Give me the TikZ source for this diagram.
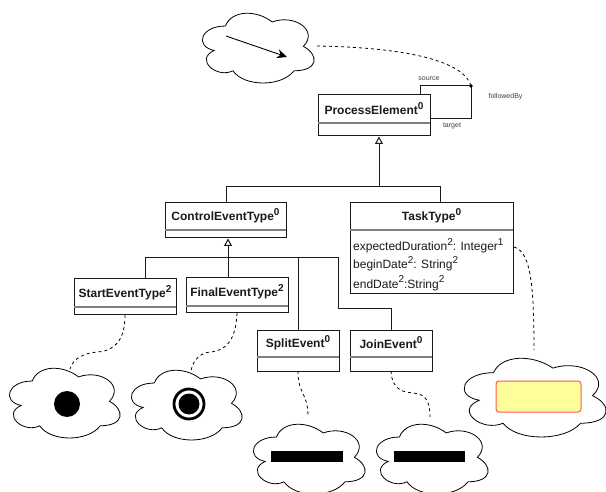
\documentclass[tikz,border=0pt]{standalone}
\usepackage{fontspec}
\setmainfont{Liberation Sans}
\usetikzlibrary{arrows.meta}
\definecolor{divgray}{HTML}{808080}
\definecolor{lineblk}{HTML}{1A1A1A}
\definecolor{noteyellow}{HTML}{FFFF99}
\definecolor{notered}{HTML}{FF5555}
\newcommand{\sups}[1]{\raisebox{0.42em}{\fontsize{10}{10}\selectfont #1}}
\newcommand{\cloudshape}[5][]{% opts, x, y, w, h (visible bbox)
  \pgfmathsetmacro{\cw}{#4/0.89}\pgfmathsetmacro{\ch}{#5/0.86}
  \pgfmathsetmacro{\cx}{#2-0.07*\cw}\pgfmathsetmacro{\cy}{#3-0.09*\ch}
  \begin{scope}[shift={(\cx,\cy)},x=\cw pt,y=-\ch pt]
  \draw[cloudline,#1] (0.25,0.25) .. controls (0.05,0.25) and (0,0.5) .. (0.16,0.55)
   .. controls (0,0.66) and (0.18,0.9) .. (0.31,0.8)
   .. controls (0.4,1) and (0.7,1) .. (0.8,0.8)
   .. controls (1,0.8) and (1,0.6) .. (0.875,0.5)
   .. controls (1,0.3) and (0.8,0.1) .. (0.625,0.2)
   .. controls (0.5,0.05) and (0.3,0.05) .. cycle;
  \end{scope}}
\tikzset{
  x=1pt,y=-1pt,
  umlbox/.style={draw=lineblk,line width=1pt,fill=white,inner sep=0pt,outer sep=0pt,anchor=north west},
  divider/.style={draw=divgray,line width=1.4pt},
  titletext/.style={font=\fontsize{12}{13}\selectfont\bfseries,inner sep=0pt,text=lineblk},
  attrtext/.style={font=\fontsize{12}{14}\selectfont,inner sep=0pt,text=lineblk,anchor=base west},
  smalltext/.style={font=\fontsize{7}{8}\selectfont,inner sep=0pt,text=black!75},
  conn/.style={draw=lineblk,line width=1pt},
  dashconn/.style={draw=black,line width=0.8pt,dash pattern=on 3pt off 3pt},
  genarrow/.style={conn,-{Triangle[open,length=7.5pt,width=8pt,line width=1pt]}},
  cloudline/.style={draw=black,line width=0.8pt,fill=white},
}
\newcommand{\umlclass}[7]{% name,x1,y1,x2,y2,divy,title
  \node[umlbox,minimum width=#4-#2,minimum height=#5-#3] (#1) at (#2,#3) {};
  \draw[divider] (#2,#6) -- (#4,#6);
  \node[titletext] (#1title) at ({(#2+#4)/2},{(#3+#6)/2-0.5}) {#7};
}
\begin{document}
\begin{tikzpicture}
\path[use as bounding box,fill=white] (0,0) rectangle (606,492);
\clip (0,0) rectangle (606,492);
% clouds
\cloudshape{203}{13}{111}{70}
\cloudshape{10}{368}{110}{70}
\cloudshape{132}{370}{110}{70}
\cloudshape{254}{424}{111}{70}
\cloudshape{377}{424}{111}{70}
\cloudshape{465}{358}{141}{79}
% cloud contents
\coordinate (arrowA) at (226,36);
\coordinate (arrowB) at (287,57);
\draw[draw=black,line width=0.9pt,-{Stealth[length=10pt,width=9pt]}] (arrowA) -- (arrowB);
\node[circle,fill=black,minimum size=26pt,inner sep=0pt] (startdot) at (67,404) {};
\node[circle,draw=black,line width=2.8pt,minimum size=30pt,inner sep=0pt] (finalring) at (189,404) {};
\node[circle,fill=black,minimum size=21pt,inner sep=0pt] (finaldot) at (189,404) {};
\node[fill=black,minimum width=72pt,minimum height=11pt,inner sep=0pt] (splitbar) at (307,456.5) {};
\node[fill=black,minimum width=71pt,minimum height=11pt,inner sep=0pt] (joinbar) at (429.5,456.5) {};
\draw[draw=notered,fill=noteyellow,line width=1pt,rounded corners=3pt] (496,381) rectangle (581,412);
% classes
\umlclass{pe}{318}{95}{430}{136}{123}{ProcessElement\sups{0}}
\umlclass{ce}{165}{203}{286}{238}{230}{ControlEventType\sups{0}}
\umlclass{tt}{350}{203}{513}{294}{230}{TaskType\sups{0}}
\umlclass{se}{74}{279}{176}{315}{307}{StartEventType\sups{2}}
\umlclass{fe}{186}{278}{288}{313}{306}{FinalEventType\sups{2}}
\umlclass{sp}{257}{330}{339}{371}{357}{SplitEvent\sups{0}}
\umlclass{je}{350}{330}{432}{371}{357}{JoinEvent\sups{0}}
\node[attrtext] (attr1) at (353,251) {expectedDuration\sups{2}: Integer\sups{1}};
\node[attrtext] (attr2) at (353,269) {beginDate\sups{2}: String\sups{2}};
\node[attrtext] (attr3) at (353,288) {endDate\sups{2}:String\sups{2}};
% generalisation
\coordinate (peIn) at (379,136.5);
\coordinate (j1) at (379,187);
\coordinate (j1L) at (226,187);
\coordinate (j1R) at (440,187);
\draw[conn] (j1L |- ce.north) -- (j1L) -- (j1R) -- (j1R |- tt.north);
\draw[genarrow] (j1) -- (peIn);
\coordinate (ceIn) at (228,238.5);
\coordinate (j2) at (228,258);
\coordinate (j2L) at (145,258);
\coordinate (j2S) at (298,258);
\coordinate (j2R) at (338,258);
\coordinate (j2b) at (338,309);
\coordinate (j2c) at (391,309);
\draw[genarrow] (ceIn |- fe.north) -- (ceIn);
\draw[conn] (j2L |- se.north) -- (j2L) -- (j2R) -- (j2b) -- (j2c) -- (j2c |- je.north);
\draw[conn] (j2S) -- (j2S |- sp.north);
% self association
\coordinate (assoc) at (471,86);
\coordinate (srcfoot) at (420,95);
\coordinate (tgtfoot) at (430,119);
\draw[conn] (srcfoot) -- (srcfoot |- assoc) -- (assoc) -- (assoc |- tgtfoot) -- (tgtfoot);
\fill[black] (assoc) circle (1.8);
\node[smalltext] (lblsrc) at (429,79) {source};
\node[smalltext] (lblfol) at (505.5,96.5) {followedBy};
\node[smalltext] (lbltgt) at (452,126) {target};
% dashed
\coordinate (cloudEnd) at (317,46);
\draw[dashconn] (cloudEnd) .. controls (380,47) and (462,55) .. (assoc);
\draw[dashconn] (se.south -| 125,0) .. controls (125,340) and (115,351) .. (97,352) .. controls (85,353) and (73,358) .. (70,369);
\draw[dashconn] (fe.south -| 237,0) .. controls (236,340) and (226,351) .. (210,352) .. controls (200,353) and (193,360) .. (191,371);
\draw[dashconn] (sp.south -| 298,0) .. controls (298,395) and (308,392) .. (308,417);
\draw[dashconn] (je.south -| 391,0) .. controls (392,392) and (406,392) .. (413,393) .. controls (425,394) and (430,400) .. (430,417);
\coordinate (ttEnd) at (514,247);
\draw[dashconn] (ttEnd) .. controls (530,252) and (534,280) .. (534,350);
\end{tikzpicture}
\end{document}
